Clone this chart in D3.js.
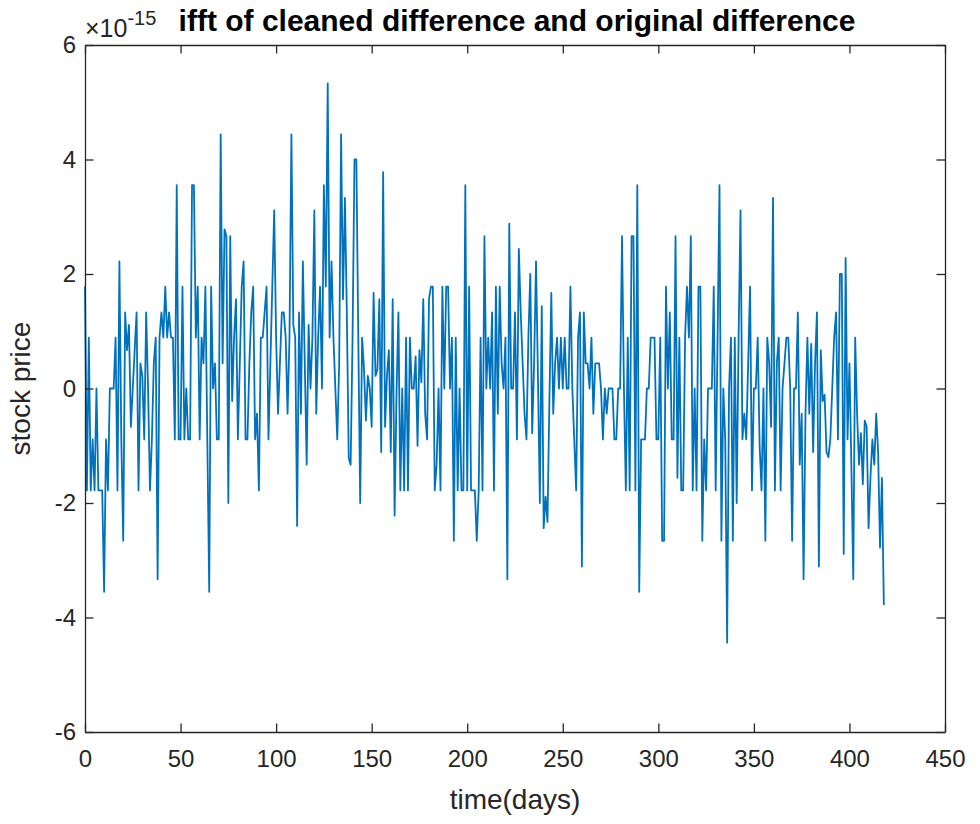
<!DOCTYPE html>
<html>
<head>
  <title>ifft of cleaned difference</title>
  <script src="https://d3js.org/d3.v7.min.js"></script>
  <style>
    body { margin: 0; background: #fff; }
    text { font-family: "Liberation Sans", Arial, sans-serif; fill: #262626; }
  </style>
</head>
<body>
  <script>
    // values, in units of 1e-15, one per day
    var days0to49 = [1.78, -1.78, 0.89, -1.78, -0.89, -1.78, 0, -1.78, -1.78, -1.78,
      -3.55, -0.89, -1.78, 0, 0, 0, 0.89, -1.78, 2.22, -0.89,
      -2.66, 1.33, 0.67, 1.11, -0.67, 0, 0.67, 1.33, -1.78, 0.44,
      0.22, -0.89, 1.33, 0, -1.78, -0.89, 0.44, 0.89, -3.33, 0.89,
      1.33, 0.89, 1.78, 0.89, 1.33, 0.89, 0.89, -0.89, 3.55, -0.89];
    var days50to99 = [-0.89, 1.78, -0.89, 0, -0.89, -0.89, 3.55, 3.55, 0.89, 1.78,
      -0.89, 0.89, 0.44, 1.78, -0.89, -3.55, 1.78, 0, 0.44, -0.89,
      -0.89, 4.44, 0.44, 2.78, 2.66, -2.0, 2.66, -0.22, 0.89, 1.56,
      -0.89, 0.44, 1.78, 2.22, -0.89, -0.89, 0.44, 1.33, 1.78, -0.89,
      -0.44, -1.78, 0.89, 0.89, 1.33, 1.78, -0.89, 0.44, 1.78, 3.11];
    var days100to149 = [0.89, -0.44, 0.44, 1.33, 1.33, 0.89, -0.44, 0.89, 4.44, 1.11,
      0.89, -2.4, 1.33, -0.44, 2.22, 0.44, -1.33, 1.11, 0, 0.89,
      3.11, -0.44, 0.89, 1.78, 0, 3.55, 1.78, 5.33, 0.89, 2.22,
      0.89, 0, -0.89, 0.44, 4.44, 1.56, 3.33, 1.33, -1.22, -1.33,
      0.89, 4.0, 4.0, 0.89, -2.0, 0.89, 0.33, -0.56, 0.22, 0];
    var days150to199 = [-0.67, 1.67, 0.22, 0.33, 1.56, -1.11, 3.78, -0.67, 0.22, 0.67,
      -1.11, 1.56, -2.22, -0.11, 1.33, -1.78, 0, -1.78, 0.89, -1.78,
      0.89, 0, 0, 0.56, -1.0, 0.67, 0.11, 1.56, -0.44, -0.89,
      1.56, 1.78, 1.78, -1.78, -1.33, 0, -1.78, 1.78, 0, 1.78,
      1.78, 0, 0.89, -2.66, 0.89, -1.78, 0, -1.78, -1.78, 3.55];
    var days200to249 = [-1.78, 1.78, -1.78, -1.78, -1.78, -2.66, -1.78, 0.89, -1.78, 2.66,
      0, 0.89, 0, 1.33, -1.78, 1.78, -0.44, 1.78, 0.44, 0,
      0.89, -3.33, 2.88, 0, 0, 1.33, -0.89, 2.44, 1.33, 0.44,
      -0.44, -0.89, 0.89, 2.0, -0.78, 0.44, 2.22, 0.22, -2.0, 1.44,
      -2.44, -1.89, -2.33, -0.22, 1.67, -0.44, 0.44, 0.89, 0, 0.89];
    var days250to299 = [0, 0.89, 0, 0, 1.78, 0, -0.89, -1.78, 0.89, 1.33,
      -3.11, 1.33, 0.44, 0.44, 0, 0.89, -0.44, 0.44, 0.44, 0.44,
      0, -0.89, 0, -0.44, 0, 0, 0, -0.89, -0.89, 0,
      0, 2.66, 0, -1.78, 0.89, -1.78, 2.66, 2.66, -1.78, 3.55,
      -3.55, -0.89, -0.89, -0.89, 0, 0, 0.89, 0.89, 0.89, -0.89];
    var days300to349 = [-0.89, 0.89, -2.66, -2.66, 1.78, 0, 1.33, -0.89, -0.89, 2.66,
      -1.56, 0.89, -1.78, -1.78, 0.89, 1.78, 0.89, 2.66, -1.78, 0,
      -1.78, 1.78, 1.78, -2.66, -0.89, -1.78, 0, 0, 0, 1.78,
      -1.78, 0.89, 3.55, -2.66, 0, -0.89, -4.44, 0, 0.89, -2.66,
      0.89, -2.0, 0.89, 3.11, -0.89, -0.44, -0.89, 0.44, 1.78, -1.78];
    var days350to399 = [0, 0, 0.89, -1.0, -1.78, 0, -2.66, 0.89, 0.44, -0.67,
      3.33, -1.78, 0.44, 0.89, -1.78, 0, 0.44, 0.89, 0.89, 0,
      -2.66, 0, 0, 1.33, -1.33, -0.44, -3.33, -0.44, 0.89, -0.44,
      0.78, -1.11, 0.44, 1.33, -3.11, 0.67, -0.22, -0.11, -1.11, -1.2,
      -0.89, 0, 0.89, 1.33, -0.89, 2.0, 2.0, -2.89, 2.28, -0.89];
    var days400to418 = [0.44, -1.33, -3.33, 0.89, -0.44, -1.33, -0.78, -1.67, -0.56, -0.67,
      -2.44, -1.56, -0.89, -1.33, -0.44, -1.11, -2.78, -1.56, -3.78];

    var values = [].concat(days0to49, days50to99, days100to149, days150to199,
      days200to249, days250to299, days300to349, days350to399, days400to418);

    var xTicks = [0, 50, 100, 150, 200, 250, 300, 350, 400, 450];
    var yTicks = [-6, -4, -2, 0, 2, 4, 6];

    var W = 980, H = 824;
    var margin = {top: 45, right: 35, bottom: 92, left: 85};
    var width = W - margin.left - margin.right;
    var height = H - margin.top - margin.bottom;

    var svg = d3.select("body").append("svg")
      .attr("width", W)
      .attr("height", H);

    svg.append("rect").attr("width", W).attr("height", H).attr("fill", "#fff");

    var g = svg.append("g")
      .attr("transform", "translate(" + margin.left + "," + margin.top + ")");

    var x = d3.scaleLinear().domain([0, 450]).range([0, width]);
    var y = d3.scaleLinear().domain([-6, 6]).range([height, 0]);

    // data line
    var line = d3.line()
      .x(function(d, i) { return x(i); })
      .y(function(d) { return y(d); });

    g.append("path")
      .datum(values)
      .attr("fill", "none")
      .attr("stroke", "#0072BD")
      .attr("stroke-width", 1.8)
      .attr("stroke-linejoin", "round")
      .attr("d", line);

    // axes, matlab style: ticks inside, box all round
    var tickLen = 8.5;
    var axisStyle = function(sel) {
      sel.select(".domain").attr("stroke", "#262626").attr("stroke-width", 1.3);
      sel.selectAll(".tick line").attr("stroke", "#262626").attr("stroke-width", 1.3);
      sel.selectAll(".tick text")
        .attr("font-size", 24)
        .attr("fill", "#262626");
    };

    g.append("g")
      .attr("transform", "translate(0," + height + ")")
      .call(d3.axisBottom(x).tickValues(xTicks).tickSizeInner(-tickLen).tickSizeOuter(0).tickPadding(18))
      .call(axisStyle);

    g.append("g")
      .call(d3.axisTop(x).tickValues(xTicks).tickSizeInner(-tickLen).tickSizeOuter(0).tickFormat(""))
      .call(axisStyle);

    g.append("g")
      .call(d3.axisLeft(y).tickValues(yTicks).tickSizeInner(-tickLen).tickSizeOuter(0).tickPadding(9)
        .tickFormat(function(d) { return String(d); }))
      .call(axisStyle);

    g.append("g")
      .attr("transform", "translate(" + width + ",0)")
      .call(d3.axisRight(y).tickValues(yTicks).tickSizeInner(-tickLen).tickSizeOuter(0).tickFormat(""))
      .call(axisStyle);

    // exponent label
    var expo = g.append("text")
      .attr("x", 0)
      .attr("y", -8)
      .attr("font-size", 25);
    expo.append("tspan").text("\u00d710");
    expo.append("tspan").attr("dy", -12).attr("font-size", 20).text("-15");

    // title
    g.append("text")
      .attr("x", width / 2 + 2)
      .attr("y", -14)
      .attr("text-anchor", "middle")
      .attr("font-size", 30)
      .attr("font-weight", "bold")
      .style("fill", "#000")
      .text("ifft of cleaned difference and original difference");

    // axis labels
    g.append("text")
      .attr("x", width / 2)
      .attr("y", height + 77)
      .attr("text-anchor", "middle")
      .attr("font-size", 28)
      .text("time(days)");

    g.append("text")
      .attr("transform", "translate(-55," + (height / 2) + ") rotate(-90)")
      .attr("text-anchor", "middle")
      .attr("font-size", 28)
      .text("stock price");
  </script>
</body>
</html>
